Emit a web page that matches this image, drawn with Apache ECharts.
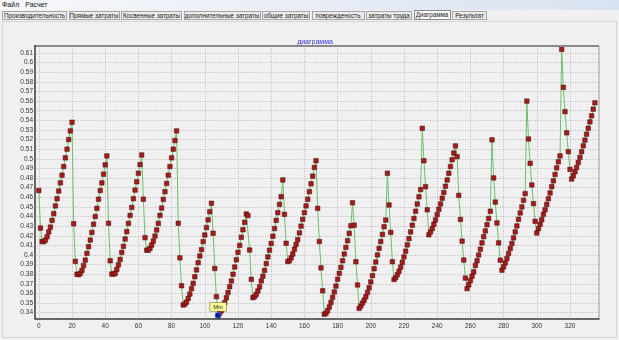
<!DOCTYPE html>
<html>
<head>
<meta charset="utf-8">
<script src="https://cdn.jsdelivr.net/npm/echarts@6/dist/echarts.min.js"></script>
<style>
html, body { margin: 0; padding: 0; width: 619px; height: 340px; overflow: hidden; background: #f0f0f0; font-family: "Liberation Sans", Arial, sans-serif; }
#menu { position: absolute; left: 0; top: 0; width: 619px; height: 10px; background: linear-gradient(to right, #f7f8fb, #d9e2f1); font-size: 7px; line-height: 10px; color: #111; }
#menu span { margin-left: 2px; margin-right: 4px; }
#tabs { position: absolute; left: 2px; top: 11px; height: 10px; display: flex; }
.tab { box-sizing: border-box; height: 9px; border: 1px solid #a4a4a4; background: #ececec; font-size: 6.3px; line-height: 7px; text-align: center; margin-right: 1.5px; color: #222; white-space: nowrap; overflow: hidden; }
.tab.sel { background: #fcfcfc; border-color: #8a8a8a; height: 10px; margin-top: -1px; }
#panel { position: absolute; left: 2px; top: 21px; width: 613px; height: 315px; background: #f0f0f0; border: 1px solid #d6d6d6; }
#chart { position: absolute; left: 0; top: 0; width: 619px; height: 340px; }
</style>
</head>
<body>
<div id="menu"></div>
<div id="tabs"></div>
<div id="panel"></div>
<div id="chart"></div>
<script>
// меню и вкладки
var menuItems = ["Файл", "Расчет"];
var tabNames = ["Производительность", "Прямые затраты", "Косвенные затраты", "дополнительные затраты",
    "общие затраты", "поврежденость", "затраты труда", "Диаграмма", "Результат"];
var tabWidths = [65, 51, 61, 77, 48, 53, 46, 37, 35]; // ширина вкладок, px
var activeTab = 7;

// значения ряда (по точкам 0..335)
var vals1 = [ // 0..83
    0.467, 0.428, 0.414, 0.414, 0.4155, 0.419, 0.424, 0.429, 0.436, 0.443, 0.451, 0.4585, 0.4665, 0.475, 0.483, 0.492, 0.501, 0.510, 0.520, 0.529, 0.538,
    0.4325, 0.3934, 0.380, 0.3795, 0.381, 0.384, 0.389, 0.3947, 0.4017, 0.4086, 0.4155, 0.4235, 0.432, 0.440, 0.4485, 0.458, 0.467, 0.475, 0.484, 0.4937, 0.503,
    0.433, 0.394, 0.3802, 0.3802, 0.3809, 0.385, 0.3899, 0.3954, 0.4027, 0.409, 0.4166, 0.4243, 0.4329, 0.4412, 0.4495, 0.4585, 0.4675, 0.4761, 0.485, 0.494, 0.504,
    0.458, 0.418, 0.405, 0.405, 0.407, 0.4103, 0.4145, 0.4197, 0.426, 0.4329, 0.4412, 0.4488, 0.4578, 0.4658, 0.4744, 0.483, 0.492, 0.501, 0.510, 0.519, 0.529
];
var vals2 = [ // 84..167
    0.433, 0.397, 0.368, 0.348, 0.349, 0.351, 0.3549, 0.3594, 0.365, 0.3705, 0.3774, 0.3845, 0.392, 0.399, 0.4055, 0.4139, 0.4208, 0.4285, 0.4365, 0.445, 0.4538,
    0.4226, 0.386, 0.3567, 0.3372, 0.3395, 0.342, 0.346, 0.3505, 0.3555, 0.361, 0.367, 0.373, 0.380, 0.3875, 0.395, 0.4028, 0.410, 0.4184, 0.4262, 0.434, 0.4426,
    0.441, 0.4052, 0.3747, 0.3557, 0.3567, 0.359, 0.3626, 0.367, 0.373, 0.378, 0.384, 0.391, 0.398, 0.405, 0.412, 0.4195, 0.4275, 0.436, 0.444, 0.4526, 0.4606, 0.478,
    0.4423, 0.4122, 0.3932, 0.394, 0.397, 0.401, 0.406, 0.411, 0.416, 0.423, 0.430, 0.437, 0.444, 0.451, 0.458, 0.4658, 0.474, 0.482, 0.491, 0.498
];
var vals3 = [ // 168..251
    0.4485, 0.414, 0.3866, 0.3628, 0.3385, 0.3393, 0.3421, 0.3459, 0.3507, 0.3559, 0.3615, 0.3677, 0.3747, 0.3809, 0.3871, 0.394, 0.401, 0.4079, 0.4148, 0.4225, 0.4304, 0.4543,
    0.431, 0.393, 0.3688, 0.3445, 0.347, 0.350, 0.353, 0.3566, 0.361, 0.366, 0.372, 0.3785, 0.3857, 0.3927, 0.400, 0.4069, 0.414, 0.4214, 0.4294, 0.4363, 0.485,
    0.452, 0.4235, 0.393, 0.3745, 0.3765, 0.3795, 0.383, 0.3875, 0.3925, 0.398, 0.404, 0.4105, 0.417, 0.424, 0.431, 0.438, 0.4455, 0.453, 0.4605, 0.468, 0.5317,
    0.498, 0.471, 0.447, 0.421, 0.424, 0.4275, 0.432, 0.4365, 0.442, 0.4475, 0.453, 0.459, 0.465, 0.4715, 0.478, 0.485, 0.492, 0.499, 0.506, 0.5134
];
var vals4 = [ // 252..335
    0.5023, 0.462, 0.437, 0.4144, 0.3947, 0.376, 0.365, 0.369, 0.3733, 0.378, 0.3825, 0.389, 0.394, 0.400, 0.406, 0.4126, 0.419, 0.425, 0.4315, 0.438, 0.4455, 0.5197,
    0.4801, 0.455, 0.4333, 0.4126, 0.3946, 0.3842, 0.3876, 0.3918, 0.3963, 0.4015, 0.4067, 0.4119, 0.4178, 0.424, 0.4302, 0.4371, 0.4437, 0.4499, 0.4568, 0.4638, 0.560,
    0.5206, 0.4953, 0.4728, 0.4534, 0.435, 0.4229, 0.4274, 0.4319, 0.4368, 0.4423, 0.447, 0.4526, 0.4585, 0.4645, 0.471, 0.4771, 0.4837, 0.4906, 0.4969, 0.503, 0.6138,
    0.5743, 0.549, 0.527, 0.5074, 0.489, 0.479, 0.4825, 0.4866, 0.491, 0.4962, 0.5014, 0.5073, 0.5135, 0.5194, 0.5256, 0.5318, 0.5384, 0.5447, 0.5516, 0.5582
];

// границы осей подобраны так, чтобы 0 и 0.34/0.61 легли как на оригинале
var xMin = -2.29, xMax = 337.47;
var yMin = 0.33345, yMax = 0.61728;

function set_ui() {
    let menu = document.getElementById("menu");
    menuItems.forEach(function (m) {
        let s = document.createElement("span");
        s.textContent = m;
        menu.appendChild(s);
    });
    let tabs = document.getElementById("tabs");
    tabNames.forEach(function (name, i) {
        let t = document.createElement("div");
        t.className = "tab" + (i == activeTab ? " sel" : "");
        t.style.width = tabWidths[i] + "px";
        t.textContent = name;
        tabs.appendChild(t);
    });
}

function draw_chart() {
    let all = vals1.concat(vals2, vals3, vals4);
    let data = all.map((v, i) => [i, v]);

    let myChart = echarts.init(document.getElementById("chart"), null, { renderer: "canvas" });
    let labelStyle = { fontSize: 6.5, color: "#333", fontFamily: "Liberation Sans" };
    let gridLine = { show: true, showMinLine: false, showMaxLine: false, lineStyle: { color: "#bababa", type: [1, 1.5], width: 1 } };

    let option = {
        animation: false,
        backgroundColor: "transparent",
        title: {
            text: "диаграмма",
            left: 310,
            top: 34,
            textAlign: "center",
            textStyle: { fontSize: 7, color: "#3434d4", fontWeight: "normal", fontFamily: "Liberation Sans" },
        },
        grid: { left: 35, top: 46, width: 564, height: 273, show: false },
        xAxis: {
            type: "value",
            min: xMin,
            max: xMax,
            splitNumber: 17,
            axisLine: { show: false },
            axisTick: { show: false },
            axisLabel: Object.assign({ margin: 4, showMinLabel: false, showMaxLabel: false }, labelStyle),
            splitLine: gridLine,
        },
        yAxis: {
            type: "value",
            min: yMin,
            max: yMax,
            splitNumber: 28,
            axisLine: { show: false },
            axisTick: { show: false },
            axisLabel: Object.assign({ margin: 2, showMinLabel: false, showMaxLabel: false }, labelStyle),
            splitLine: gridLine,
        },
        series: [
            {
                type: "line",
                data: data,
                showAllSymbol: true,
                symbol: "rect",
                symbolSize: 4.5,
                lineStyle: { color: "#6cbf6c", width: 1 },
                itemStyle: { color: "#a41c1c", borderColor: "#4a0808", borderWidth: 0.5 },
                emphasis: { disabled: true },
                markPoint: {
                    symbol: "circle",
                    symbolSize: 6,
                    itemStyle: { color: "#14148e", borderColor: "#4d6fd6", borderWidth: 1 },
                    label: {
                        show: true,
                        position: "top",
                        distance: 1,
                        formatter: "Min",
                        fontSize: 6,
                        lineHeight: 6,
                        color: "#222",
                        fontFamily: "Liberation Sans",
                        backgroundColor: "#ffff96",
                        borderColor: "#7d7d3a",
                        borderWidth: 0.7,
                        padding: [1, 3],
                    },
                    data: [{ type: "min", name: "Min" }],
                },
            },
        ],
        graphic: [
            // рамка графика
            { type: "line", z: 100, shape: { x1: 35, y1: 46, x2: 599, y2: 46 }, style: { stroke: "#8a8a8a", lineWidth: 2 } },
            { type: "line", z: 100, shape: { x1: 599, y1: 46, x2: 599, y2: 319 }, style: { stroke: "#9c9c9c", lineWidth: 1 } },
            { type: "line", z: 100, shape: { x1: 35, y1: 45, x2: 35, y2: 319.5 }, style: { stroke: "#3a3a3a", lineWidth: 1.5 } },
            { type: "line", z: 100, shape: { x1: 35, y1: 319, x2: 599.5, y2: 319 }, style: { stroke: "#3a3a3a", lineWidth: 1.5 } },
        ],
    };
    myChart.setOption(option);
}

set_ui();
draw_chart();
</script>
</body>
</html>
